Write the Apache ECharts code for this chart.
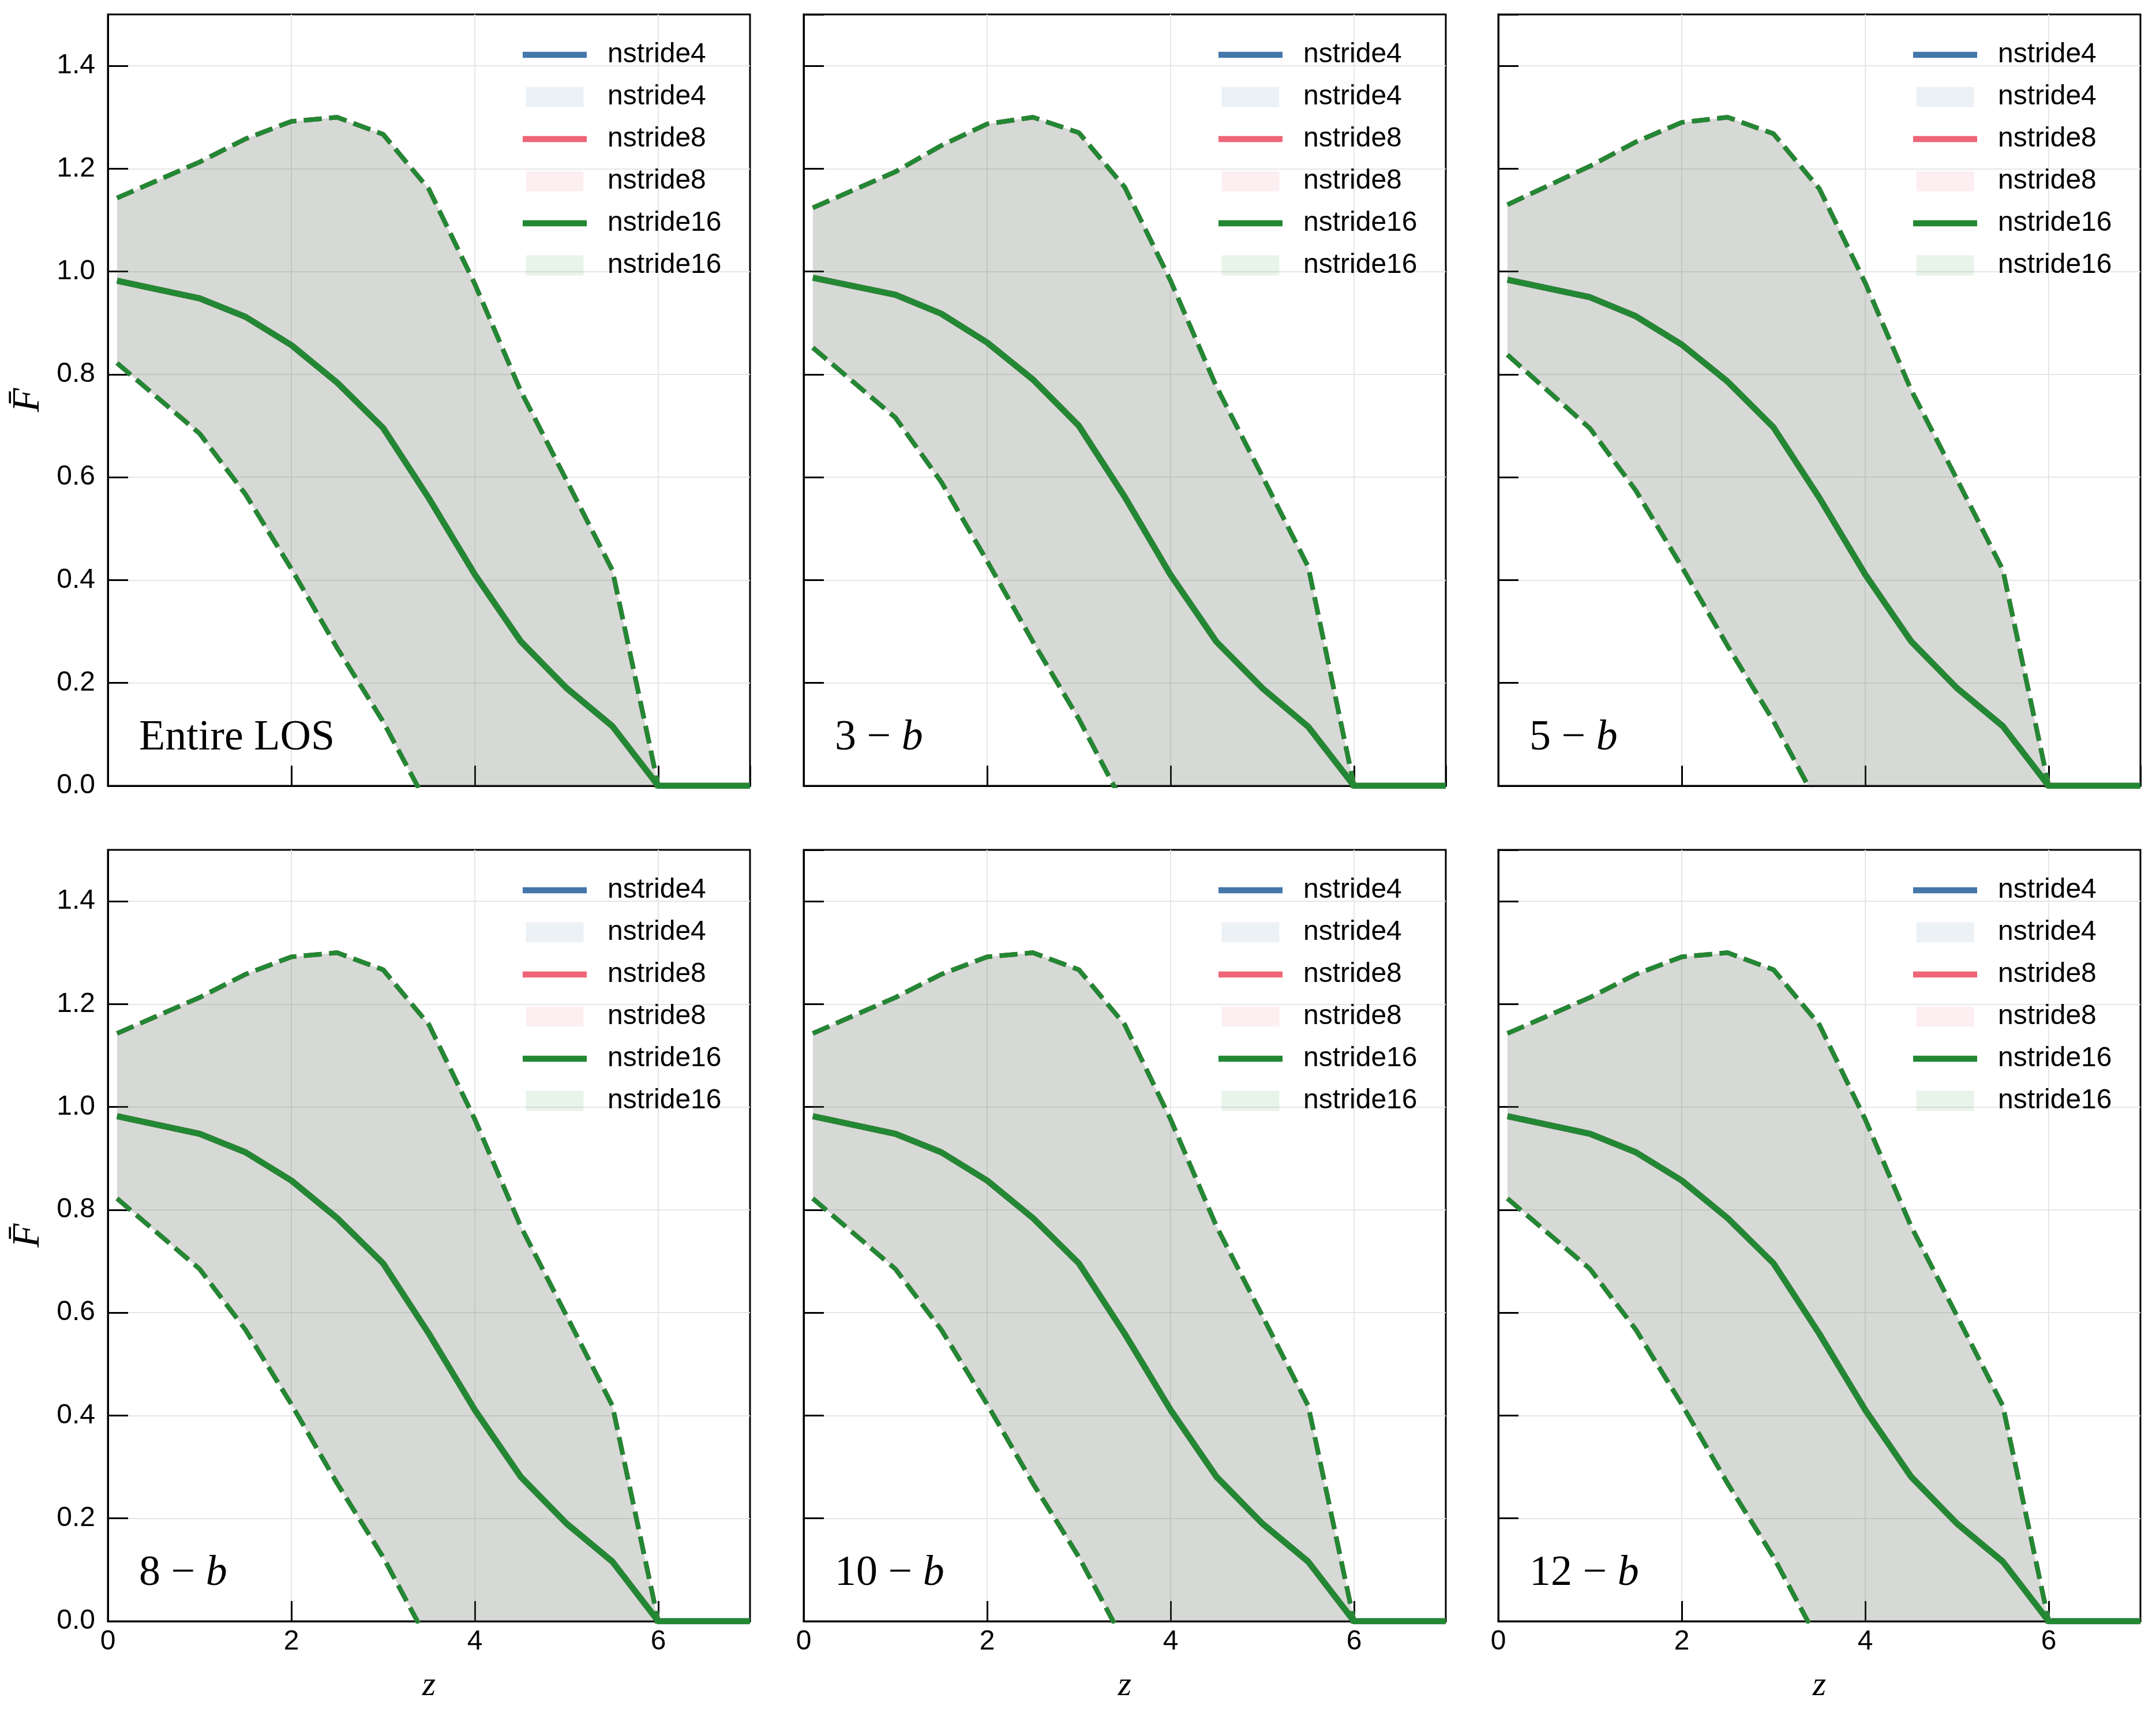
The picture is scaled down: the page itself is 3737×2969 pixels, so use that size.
<!DOCTYPE html>
<html>
<head>
<meta charset="utf-8">
<script src="https://cdn.jsdelivr.net/npm/echarts@6/dist/echarts.min.js"></script>
<style>
  html, body { margin: 0; padding: 0; background: #fff; }
  #chart { width: 3737px; height: 2969px; }
</style>
</head>
<body>
<div id="chart"></div>
<script>
// redshift grid shared by every curve
var zs = [0.1, 1.0, 1.5, 2.0, 2.5, 3.0, 3.5, 4.0, 4.5, 5.0, 5.5, 6.0, 6.5, 7.0];

// Entire LOS (same curves read for 8-b, 10-b, 12-b)
var meanEntire  = [0.982, 0.948, 0.912, 0.857, 0.784, 0.696, 0.559, 0.411, 0.281, 0.190, 0.116, 0.0, 0.0, 0.0];
var upperEntire = [1.143, 1.213, 1.258, 1.292, 1.300, 1.267, 1.160, 0.976, 0.768, 0.594, 0.419, 0.0, 0.0, 0.0];
var lowerEntire = [0.822, 0.685, 0.567, 0.422, 0.268, 0.125, -0.042, -0.154, -0.206, -0.214, -0.187, 0.0, 0.0, 0.0];

// 3-b
var mean3b  = [0.988, 0.955, 0.918, 0.862, 0.790, 0.700, 0.562, 0.410, 0.280, 0.190, 0.115, 0.0, 0.0, 0.0];
var upper3b = [1.124, 1.194, 1.245, 1.287, 1.300, 1.270, 1.164, 0.982, 0.776, 0.602, 0.426, 0.0, 0.0, 0.0];
var lower3b = [0.852, 0.716, 0.591, 0.437, 0.280, 0.130, -0.040, -0.162, -0.216, -0.222, -0.196, 0.0, 0.0, 0.0];

// 5-b
var mean5b  = [0.984, 0.950, 0.913, 0.858, 0.786, 0.697, 0.560, 0.411, 0.281, 0.190, 0.116, 0.0, 0.0, 0.0];
var upper5b = [1.130, 1.205, 1.252, 1.290, 1.300, 1.268, 1.161, 0.978, 0.770, 0.596, 0.420, 0.0, 0.0, 0.0];
var lower5b = [0.838, 0.695, 0.574, 0.426, 0.272, 0.126, -0.041, -0.156, -0.208, -0.216, -0.188, 0.0, 0.0, 0.0];

var panelTags = ['Entire LOS', '3', '5', '8', '10', '12'];
var panelMean  = [meanEntire, mean3b, mean5b, meanEntire, meanEntire, meanEntire];
var panelUpper = [upperEntire, upper3b, upper5b, upperEntire, upperEntire, upperEntire];
var panelLower = [lowerEntire, lower3b, lower5b, lowerEntire, lowerEntire, lowerEntire];

var strides = ['nstride4', 'nstride8', 'nstride16'];
var lineColors = ['#4477aa', '#ee6677', '#228833'];
var bandColors = ['rgba(68,119,170,0.1)', 'rgba(238,102,119,0.1)', 'rgba(34,136,51,0.1)'];

var colLeft = [187, 1393, 2597];
var rowTop = [25, 1473];
var gw = 1113, gh = 1337;

var sans = 'Liberation Sans, Arial, Helvetica, sans-serif';
var serif = 'Liberation Serif, Times New Roman, serif';

function pairs(ys) {
  return zs.map(function(z, i) { return [z, ys[i]]; });
}

// fill_between as one polygon, placed with the axis scales
function bandRenderer(lower, upper, color) {
  return function(params, api) {
    if (params.dataIndex !== 0) return null;
    var pts = [];
    for (var i = 0; i < zs.length; i++) pts.push(api.coord([zs[i], upper[i]]));
    for (var j = zs.length - 1; j >= 0; j--) pts.push(api.coord([zs[j], lower[j]]));
    return { type: 'polygon', shape: { points: pts }, style: { fill: color } };
  };
}

var grids = [], xAxes = [], yAxes = [], legends = [], series = [], graphics = [];

var legendData = [];
strides.forEach(function(s) {
  legendData.push({ name: s, icon: 'path://M0,0H111V10.5H0Z' });
  legendData.push({ name: s + '#band', icon: 'path://M0,0H100V35H0Z' });
});

for (var p = 0; p < 6; p++) {
  var col = p % 3, row = Math.floor(p / 3);
  grids.push({
    left: colLeft[col], top: rowTop[row], width: gw, height: gh,
    show: true, borderColor: '#000', borderWidth: 3, backgroundColor: 'transparent'
  });
  xAxes.push({
    type: 'value', gridIndex: p, min: 0, max: 7, interval: 2,
    name: row === 1 ? 'z' : '', nameLocation: 'middle', nameGap: 82,
    nameTextStyle: { fontFamily: serif, fontStyle: 'italic', fontSize: 60, color: '#000' },
    axisLine: { show: true, onZero: false, lineStyle: { color: '#000', width: 3 } },
    axisTick: { show: true, inside: true, length: 35, lineStyle: { color: '#000', width: 3 } },
    axisLabel: { show: row === 1, fontSize: 48, fontFamily: sans, color: '#000', margin: 12, showMaxLabel: false },
    splitLine: { show: true, showMinLine: false, showMaxLine: false, lineStyle: { color: '#e6e6e6', width: 2 } }
  });
  yAxes.push({
    type: 'value', gridIndex: p, min: 0, max: 1.5, interval: 0.2,
    name: col === 0 ? 'F\u0304' : '', nameLocation: 'middle', nameGap: 104, nameRotate: 90,
    nameTextStyle: { fontFamily: serif, fontStyle: 'italic', fontSize: 68, color: '#000' },
    axisLine: { show: true, lineStyle: { color: '#000', width: 3 } },
    axisTick: { show: true, inside: true, length: 35, lineStyle: { color: '#000', width: 3 } },
    axisLabel: {
      show: col === 0, fontSize: 48, fontFamily: sans, color: '#000', margin: 22, showMaxLabel: false,
      formatter: function(v) { return v.toFixed(1); }
    },
    splitLine: { show: true, showMinLine: false, showMaxLine: false, lineStyle: { color: '#e6e6e6', width: 2 } }
  });
  legends.push({
    orient: 'vertical', left: colLeft[col] + 719, top: rowTop[row] + 46, padding: 0,
    itemWidth: 111, itemHeight: 35, itemGap: 25, selectedMode: false,
    textStyle: { fontSize: 48, fontFamily: sans, color: '#000', padding: [0, 0, 0, 31] },
    formatter: function(n) { return n.split('#')[0]; },
    data: legendData
  });

  var upper = panelUpper[p], lower = panelLower[p], mean = panelMean[p];

  strides.forEach(function(s, k) {
    var dashed = { color: lineColors[k], width: 8, type: [31, 13] };
    series.push({
      name: s + '#band', type: 'custom', xAxisIndex: p, yAxisIndex: p,
      data: pairs(lower), clip: true, silent: true, z: 1,
      itemStyle: { color: bandColors[k] },
      renderItem: bandRenderer(lower, upper, bandColors[k])
    });
    series.push({
      type: 'line', xAxisIndex: p, yAxisIndex: p, data: pairs(lower),
      symbol: 'none', silent: true, lineStyle: dashed, z: 2
    });
    series.push({
      type: 'line', xAxisIndex: p, yAxisIndex: p, data: pairs(upper),
      symbol: 'none', silent: true, lineStyle: dashed, z: 2
    });
    series.push({
      name: s, type: 'line', xAxisIndex: p, yAxisIndex: p, data: pairs(mean),
      symbol: 'none', silent: true, itemStyle: { color: lineColors[k] },
      lineStyle: { color: lineColors[k], width: 10.5, join: 'round' }, z: 3
    });
  });

  var tag = panelTags[p];
  var txt = p === 0 ? '{r|' + tag + '}' : '{r|' + tag + '} {r|\u2212} {i|b}';
  graphics.push({
    type: 'text', x: colLeft[col] + 54, y: rowTop[row] + gh - 45, z: 10,
    style: {
      text: txt, fill: '#000', fontFamily: serif, fontSize: 74, verticalAlign: 'bottom',
      rich: {
        r: { fontFamily: serif, fontSize: 74, fill: '#000' },
        i: { fontFamily: serif, fontSize: 74, fontStyle: 'italic', fill: '#000' }
      }
    }
  });
}

var chart = echarts.init(document.getElementById('chart'), null, { renderer: 'canvas' });
chart.setOption({
  animation: false,
  backgroundColor: '#fff',
  grid: grids,
  xAxis: xAxes,
  yAxis: yAxes,
  legend: legends,
  series: series,
  graphic: graphics
});
window.addEventListener('resize', function() { chart.resize(); });
</script>
</body>
</html>
